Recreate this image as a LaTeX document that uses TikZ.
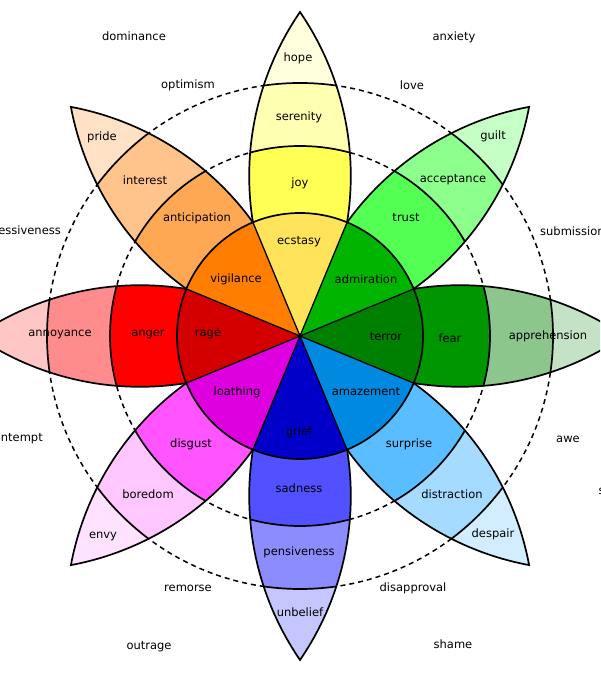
\documentclass[tikz,border=0pt]{standalone}
\usepackage{fontspec}
\setmainfont{DejaVu Sans}
\usepackage{tikz}

\definecolor{ecstasyc}{HTML}{FFE35B}
\definecolor{joyc}{HTML}{FFFF54}
\definecolor{serenityc}{HTML}{FFFFB1}
\definecolor{hopec}{HTML}{FFFFDE}
\definecolor{admirationc}{HTML}{00B400}
\definecolor{trustc}{HTML}{54FF54}
\definecolor{acceptancec}{HTML}{8CFF8C}
\definecolor{guiltc}{HTML}{C6FFC6}
\definecolor{terrorc}{HTML}{008000}
\definecolor{fearc}{HTML}{009600}
\definecolor{apprehensionc}{HTML}{8CC68C}
\definecolor{awetipc}{HTML}{C6E2C6}
\definecolor{amazementc}{HTML}{0089E0}
\definecolor{surprisec}{HTML}{59BDFF}
\definecolor{distractionc}{HTML}{A5DBFF}
\definecolor{despairc}{HTML}{D2EDFF}
\definecolor{griefc}{HTML}{0000C8}
\definecolor{sadnessc}{HTML}{5151FF}
\definecolor{pensivenessc}{HTML}{8C8CFF}
\definecolor{unbeliefc}{HTML}{C6C6FF}
\definecolor{loathingc}{HTML}{DE00DE}
\definecolor{disgustc}{HTML}{FF54FF}
\definecolor{boredomc}{HTML}{FFC6FF}
\definecolor{envyc}{HTML}{FFE2FF}
\definecolor{ragec}{HTML}{D40000}
\definecolor{angerc}{HTML}{FF0000}
\definecolor{annoyancec}{HTML}{FF8C8C}
\definecolor{contempttipc}{HTML}{FFC6C6}
\definecolor{vigilancec}{HTML}{FF7D00}
\definecolor{anticipationc}{HTML}{FFA854}
\definecolor{interestc}{HTML}{FFC48C}
\definecolor{pridec}{HTML}{FFE2C6}

% one petal: direction, inner ring, middle ring, tip
\newcommand{\petal}[4]{%
	\begin{scope}[shift={(300,343)},rotate=#1-90]
		\begin{scope}
			\clip (-47.07,113.64) arc[start angle=189.2,end angle=145.58,radius=290.1]
				arc[start angle=34.42,end angle=-9.2,radius=290.1]
				arc[start angle=67.5,end angle=112.5,radius=123] -- cycle;
			\fill[#4] (0,0) circle[radius=330];
			\fill[#3] (0,0) circle[radius=253];
			\fill[#2] (0,0) circle[radius=190];
			\draw[outline] (0,0) circle[radius=190];
			\draw[outline] (0,0) circle[radius=253];
		\end{scope}
		\draw[outline] (-47.07,113.64) arc[start angle=189.2,end angle=145.58,radius=290.1]
			arc[start angle=34.42,end angle=-9.2,radius=290.1];
	\end{scope}}

% one sector of the inner disc
\newcommand{\sector}[2]{%
	\fill[#2] (300,343) -- ++(#1-22.5:123) arc[start angle=#1-22.5,end angle=#1+22.5,radius=123] -- cycle;}

\begin{document}
\begin{tikzpicture}[x=1pt,y=1pt,
		outline/.style={line width=1.7pt,black},
		spoke/.style={line width=1.3pt,black},
		ring/.style={line width=1.5pt,black,dash pattern=on 5pt off 4pt},
		emo/.style={font=\fontsize{11.5}{13}\selectfont,inner sep=0pt,text=black}]
	\useasboundingbox (0,0) rectangle (600,679);
	\clip (0,0) rectangle (600,679);
	\fill[white] (0,0) rectangle (600,679);

	\coordinate (centre) at (300,343);

	\draw[ring] (centre) circle[radius=190];
	\draw[ring] (centre) circle[radius=253];

	\petal{90}{joyc}{serenityc}{hopec}
	\petal{45}{trustc}{acceptancec}{guiltc}
	\petal{0}{fearc}{apprehensionc}{awetipc}
	\petal{-45}{surprisec}{distractionc}{despairc}
	\petal{-90}{sadnessc}{pensivenessc}{unbeliefc}
	\petal{-135}{disgustc}{boredomc}{envyc}
	\petal{180}{angerc}{annoyancec}{contempttipc}
	\petal{135}{anticipationc}{interestc}{pridec}

	\sector{90}{ecstasyc}
	\sector{45}{admirationc}
	\sector{0}{terrorc}
	\sector{-45}{amazementc}
	\sector{-90}{griefc}
	\sector{-135}{loathingc}
	\sector{180}{ragec}
	\sector{135}{vigilancec}

	\draw[spoke] (centre) -- ++(22.5:123);
	\draw[spoke] (centre) -- ++(67.5:123);
	\draw[spoke] (centre) -- ++(112.5:123);
	\draw[spoke] (centre) -- ++(157.5:123);
	\draw[spoke] (centre) -- ++(202.5:123);
	\draw[spoke] (centre) -- ++(247.5:123);
	\draw[spoke] (centre) -- ++(292.5:123);
	\draw[spoke] (centre) -- ++(337.5:123);
	\draw[outline] (centre) circle[radius=123];

	% inner disc
	\node[emo] (ecstasy)		at (299,437)	{ecstasy};
	\node[emo] (admiration)		at (366,400)	{admiration};
	\node[emo] (terror)			at (386,342)	{terror};
	\node[emo] (amazement)		at (366,287)	{amazement};
	\node[emo] (grief)			at (299,247)	{grief};
	\node[emo] (loathing)		at (237,287)	{loathing};
	\node[emo] (rage)			at (208,345)	{rage};
	\node[emo] (vigilance)		at (236,400)	{vigilance};

	% middle ring
	\node[emo] (joy)			at (300,496)	{joy};
	\node[emo] (trust)			at (406,461)	{trust};
	\node[emo] (fear)			at (450,341)	{fear};
	\node[emo] (surprise)		at (409,235)	{surprise};
	\node[emo] (sadness)		at (299,191)	{sadness};
	\node[emo] (disgust)		at (191,235)	{disgust};
	\node[emo] (anger)			at (148,345)	{anger};
	\node[emo] (anticipation)	at (197,461)	{anticipation};

	% outer ring
	\node[emo] (serenity)		at (299,562)	{serenity};
	\node[emo] (acceptance)		at (453,499)	{acceptance};
	\node[emo] (apprehension)	at (548,343)	{apprehension};
	\node[emo] (distraction)	at (452,185)	{distraction};
	\node[emo] (pensiveness)	at (299,127)	{pensiveness};
	\node[emo] (boredom)		at (148,185)	{boredom};
	\node[emo] (annoyance)		at (60,345)		{annoyance};
	\node[emo] (interest)		at (145,499)	{interest};

	% tips
	\node[emo] (hope)			at (298,621)	{hope};
	\node[emo] (guilt)			at (493,543)	{guilt};
	\node[emo] (despair)		at (493,145)	{despair};
	\node[emo] (unbelief)		at (300,67)		{unbelief};
	\node[emo] (envy)			at (103,143)	{envy};
	\node[emo] (pride)			at (102,542)	{pride};

	% dyads
	\node[emo] (optimism)		at (188,594)	{optimism};
	\node[emo] (love)			at (412,594)	{love};
	\node[emo,anchor=west] (submission)	at (540,448)	{submission};
	\node[emo] (awe)			at (568,240)	{awe};
	\node[emo] (disapproval)	at (413,91)		{disapproval};
	\node[emo] (remorse)		at (188,91)		{remorse};
	\node[emo,anchor=east] (contempt)	at (43,240)		{contempt};
	\node[emo,anchor=east] (aggressiveness)	at (61,448)	{aggressiveness};

	\node[emo] (dominance)		at (134,643)	{dominance};
	\node[emo] (anxiety)		at (454,642)	{anxiety};
	\node[emo,anchor=west] (sentimentality)	at (598.5,188)	{sentimentality};
	\node[emo] (outrage)		at (149,32)		{outrage};
	\node[emo] (shame)			at (453,35)		{shame};
\end{tikzpicture}
\end{document}
